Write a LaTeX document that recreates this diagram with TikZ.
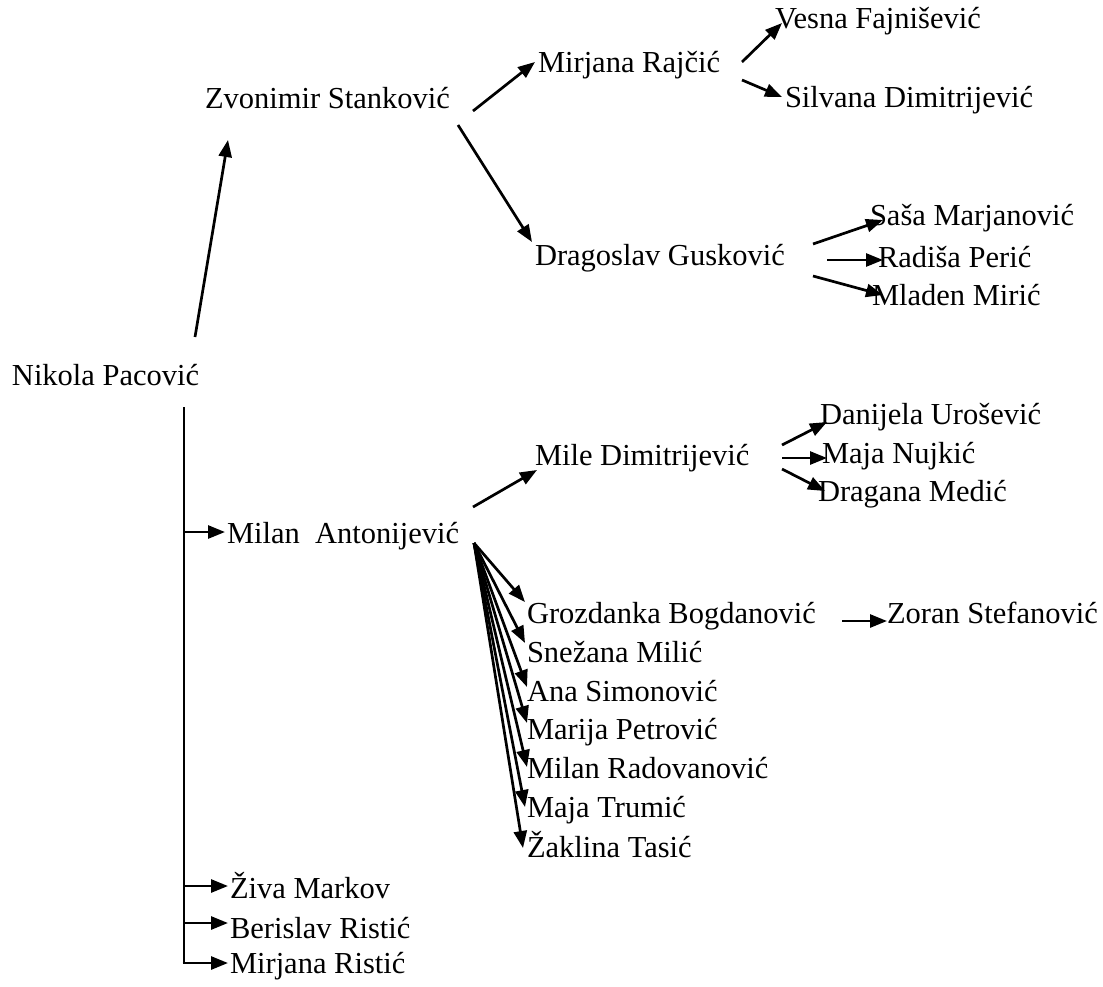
\documentclass[tikz,border=0pt]{standalone}
\usepackage{fontspec}
\setmainfont{Liberation Serif}
\usetikzlibrary{arrows.meta,calc}
\tikzset{
  person/.style={anchor=base west, inner sep=0pt, outer sep=0pt, font=\fontsize{30.5}{36}\selectfont},
  arr/.style={line width=2.7pt, -{Triangle[length=17pt,width=13pt]}},
  trunkline/.style={line width=2.7pt}
}
\begin{document}
\begin{tikzpicture}[x=1pt,y=-1pt]
\path[use as bounding box] (0,0) rectangle (1103,986);
% nodes
\node[person] (nik) at (12,385) {Nikola Pacović};
\node[person] (zvo) at (205,108) {Zvonimir Stanković};
\node[person] (mir) at (538,72) {Mirjana Rajčić};
\node[person] (ves) at (775,28) {Vesna Fajnišević};
\node[person] (sil) at (785,107) {Silvana Dimitrijević};
\node[person] (dra) at (535,265) {Dragoslav Gusković};
\node[person] (sas) at (870,225) {Saša Marjanović};
\node[person] (rad) at (878,267) {Radiša Perić};
\node[person] (mla) at (872,305) {Mladen Mirić};
\node[person] (mil) at (535,465) {Mile Dimitrijević};
\node[person] (dan) at (820,424) {Danijela Urošević};
\node[person] (maj) at (822,463) {Maja Nujkić};
\node[person] (drm) at (818,501) {Dragana Medić};
\node[person] (ant) at (227,543) {Milan\ \ Antonijević};
\node[person] (gro) at (527,623) {Grozdanka Bogdanović};
\node[person] (zor) at (887,623) {Zoran Stefanović};
\node[person] (sne) at (527,662) {Snežana Milić};
\node[person] (ana) at (527,701) {Ana Simonović};
\node[person] (mar) at (527,739) {Marija Petrović};
\node[person] (mrd) at (527,778) {Milan Radovanović};
\node[person] (mtr) at (527,817) {Maja Trumić};
\node[person] (zak) at (527,857) {Žaklina Tasić};
\node[person] (ziv) at (230,898) {Živa Markov};
\node[person] (ber) at (230,938) {Berislav Ristić};
\node[person] (mri) at (230,973) {Mirjana Ristić};
% connectors
\draw[arr] ($(nik.base west)+(183,-48)$) -- ($(zvo.base west)+(23,32)$);
\draw[arr] ($(zvo.base west)+(268,3)$) -- ($(mir.base west)+(-3,-10)$);
\draw[arr] ($(zvo.base west)+(253,17)$) -- ($(dra.base west)+(-3,-23)$);
\draw[arr] ($(mir.base west)+(204,-10)$) -- ($(ves.base west)+(7,-5)$);
\draw[arr] ($(mir.base west)+(204,8)$) -- ($(sil.base west)+(-3,-10)$);
\draw[arr] ($(dra.base west)+(278,-21)$) -- ($(sas.base west)+(13,-5)$);
\draw[arr] ($(dra.base west)+(292,-5)$) -- ($(rad.base west)+(5,-7)$);
\draw[arr] ($(dra.base west)+(278,11)$) -- ($(mla.base west)+(11,-10)$);
\draw[arr] ($(mil.base west)+(247,-20)$) -- ($(dan.base west)+(7,-2)$);
\draw[arr] ($(mil.base west)+(247,-7)$) -- ($(maj.base west)+(5,-5)$);
\draw[arr] ($(mil.base west)+(247,4)$) -- ($(drm.base west)+(7,-10)$);
\draw[arr] ($(ant.base west)+(246,-36)$) -- ($(mil.base west)+(2,5)$);
\coordinate (fan) at ($(ant.base west)+(247,0)$);
\draw[arr] (fan) -- ($(gro.base west)+(-2,-21)$);
\draw[arr] (fan) -- ($(sne.base west)+(-2,-19)$);
\draw[arr] (fan) -- ($(ana.base west)+(0,-14)$);
\draw[arr] (fan) -- ($(mar.base west)+(0,-16)$);
\draw[arr] (fan) -- ($(mrd.base west)+(0,-11)$);
\draw[arr] (fan) -- ($(mtr.base west)+(-2,-10)$);
\draw[arr] (fan) -- ($(zak.base west)+(-4,-9)$);
\draw[arr] ($(gro.base west)+(315,-2)$) -- ($(zor.base west)+(0,-2)$);
% trunk from Nikola
\coordinate (trunk) at ($(nik.base west)+(172,22)$);
\coordinate (tA) at ($(ant.base west)+(-2,-11)$);
\coordinate (tZ) at ($(ziv.base west)+(-2,-12)$);
\coordinate (tB) at ($(ber.base west)+(-2,-15)$);
\coordinate (tM) at ($(mri.base west)+(-2,-10)$);
\draw[trunkline] (trunk) -- (trunk |- tM);
\draw[arr] (trunk |- tA) -- (tA);
\draw[arr] (trunk |- tZ) -- (tZ);
\draw[arr] (trunk |- tB) -- (tB);
\draw[arr] ([xshift=-1.35pt]trunk |- tM) -- (tM);
\end{tikzpicture}
\end{document}
